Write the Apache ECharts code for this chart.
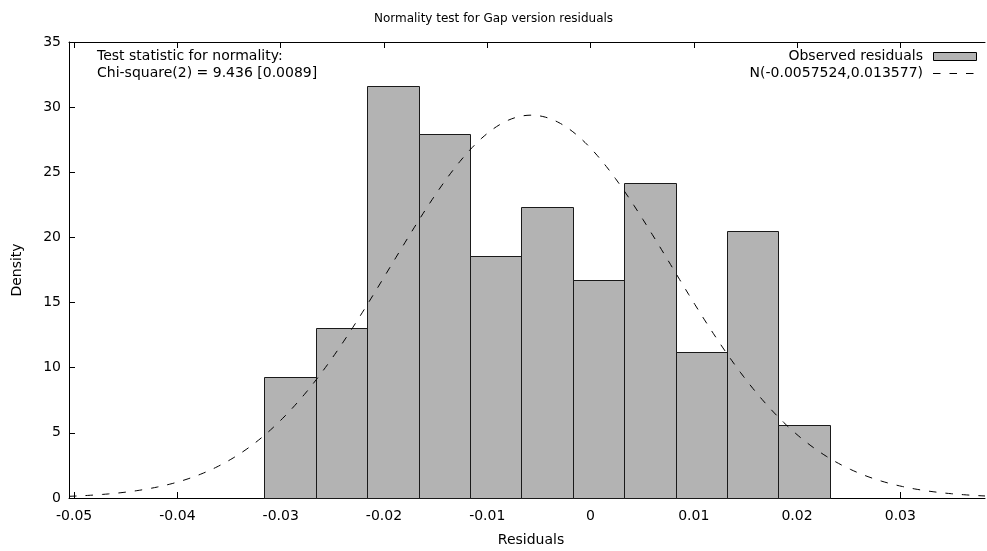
<!DOCTYPE html>
<html>
<head>
<meta charset="utf-8">
<title>Normality test for Gap version residuals</title>
<script src="https://cdn.jsdelivr.net/npm/echarts@6/dist/echarts.min.js"></script>
<style>
  html, body { margin: 0; padding: 0; background: #fff; }
  #chart { width: 987px; height: 551px; }
</style>
</head>
<body>
<div id="chart"></div>
<script>
// Histogram bin edges (residuals) and the density of each bin
const binEdges = [-0.03157, -0.02660, -0.02162, -0.01665, -0.01167, -0.00670,
                  -0.00172, 0.00325, 0.00823, 0.01320, 0.01818, 0.02315];
const densities = [9.30, 13.03, 31.64, 27.91, 18.61, 22.33, 16.75, 24.19, 11.17, 20.47, 5.58];

// Fitted normal distribution N(mean, sd)
const normMean = -0.0057524;
const normSd = 0.013577;

// Axis ranges and tick labels
const xRange = [-0.0505, 0.0382];
const xTicks = [-0.05, -0.04, -0.03, -0.02, -0.01, 0, 0.01, 0.02, 0.03];
const yTicks = [0, 5, 10, 15, 20, 25, 30, 35];

const titleText = 'Normality test for Gap version residuals';
const statLines = ['Test statistic for normality:', 'Chi-square(2) = 9.436 [0.0089]'];
const legendNames = ['Observed residuals', 'N(-0.0057524,0.013577)'];

const FONT = 'DejaVu Sans';
const FS = 14;
const FS_TITLE = 12;
const font = size => size + 'px "' + FONT + '"';
const DASH = [7.5, 9];

// Histogram rows: [lo, hi, density]
const histData = densities.map((d, i) => [binEdges[i], binEdges[i + 1], d]);

// Normal density curve sampled across the x range
const curveData = [];
const nPts = 300;
for (let i = 0; i <= nPts; i++) {
  const x = xRange[0] + (xRange[1] - xRange[0]) * i / nPts;
  const z = (x - normMean) / normSd;
  curveData.push([x, Math.exp(-0.5 * z * z) / (normSd * Math.sqrt(2 * Math.PI))]);
}

const fmtX = v => {
  if (Math.abs(v) < 1e-12) return '0';
  return (Math.round(v * 100) / 100).toString();
};

const axisLineStyle = { color: '#000', width: 1 };
const tickStyle = { color: '#000', width: 1 };

const chart = echarts.init(document.getElementById('chart'), null, { renderer: 'canvas' });

chart.setOption({
  animation: false,
  backgroundColor: '#fff',
  textStyle: { fontFamily: FONT },
  grid: { left: 69, right: 2, top: 42, bottom: 53, show: false },
  xAxis: [{
    type: 'value',
    min: xRange[0],
    max: xRange[1],
    position: 'bottom',
    splitLine: { show: false },
    axisLine: { show: true, onZero: false, lineStyle: axisLineStyle },
    axisTick: { show: true, inside: true, length: 6, lineStyle: tickStyle, customValues: xTicks },
    axisLabel: {
      show: true, margin: 11, color: '#000', fontFamily: FONT, fontSize: FS,
      customValues: xTicks, formatter: fmtX, showMinLabel: true, showMaxLabel: true
    }
  }, {
    type: 'value',
    min: xRange[0],
    max: xRange[1],
    position: 'top',
    splitLine: { show: false },
    axisLine: { show: true, onZero: false, lineStyle: axisLineStyle },
    axisTick: { show: true, inside: true, length: 6, lineStyle: tickStyle, customValues: xTicks },
    axisLabel: { show: false }
  }],
  yAxis: [{
    type: 'value',
    min: 0,
    max: 35,
    interval: 5,
    position: 'left',
    splitLine: { show: false },
    axisLine: { show: true, onZero: false, lineStyle: axisLineStyle },
    axisTick: { show: true, inside: true, length: 6, lineStyle: tickStyle },
    axisLabel: { show: true, margin: 8, color: '#000', fontFamily: FONT, fontSize: FS }
  }],
  series: [{
    name: legendNames[0],
    type: 'custom',
    xAxisIndex: 0,
    yAxisIndex: 0,
    data: histData,
    encode: { x: [0, 1], y: 2 },
    renderItem: function (params, api) {
      const p0 = api.coord([api.value(0), 0]);
      const p1 = api.coord([api.value(1), api.value(2)]);
      const x0 = Math.round(p0[0]) + 0.5;
      const x1 = Math.round(p1[0]) + 0.5;
      const yTop = Math.round(p1[1]) + 0.5;
      const yBot = Math.round(p0[1]) + 0.5;
      return {
        type: 'rect',
        shape: { x: x0, y: yTop, width: x1 - x0, height: yBot - yTop },
        style: { fill: '#b3b3b3', stroke: '#1a1a1a', lineWidth: 1 }
      };
    },
    z: 2
  }, {
    name: legendNames[1],
    type: 'line',
    xAxisIndex: 0,
    yAxisIndex: 0,
    data: curveData,
    showSymbol: false,
    symbol: 'none',
    smooth: false,
    lineStyle: { color: '#000', width: 1, type: DASH },
    z: 3
  }],
  graphic: [
    // chart title
    { type: 'text', z: 10, x: 493.5, y: 19,
      style: { text: titleText, fill: '#000', font: font(FS_TITLE), align: 'center', verticalAlign: 'middle' } },
    // statistic text, upper left
    { type: 'text', z: 10, x: 97, y: 56,
      style: { text: statLines[0], fill: '#000', font: font(FS), verticalAlign: 'middle' } },
    { type: 'text', z: 10, x: 97, y: 73,
      style: { text: statLines[1], fill: '#000', font: font(FS), verticalAlign: 'middle' } },
    // key entries, upper right
    { type: 'text', z: 10, x: 923, y: 56,
      style: { text: legendNames[0], fill: '#000', font: font(FS), align: 'right', verticalAlign: 'middle' } },
    { type: 'rect', z: 10, shape: { x: 933.5, y: 52.5, width: 43, height: 8 },
      style: { fill: '#b3b3b3', stroke: '#000', lineWidth: 1 } },
    { type: 'text', z: 10, x: 923, y: 73,
      style: { text: legendNames[1], fill: '#000', font: font(FS), align: 'right', verticalAlign: 'middle' } },
    { type: 'line', z: 10, shape: { x1: 933, y1: 73.5, x2: 977, y2: 73.5 },
      style: { stroke: '#000', lineWidth: 1, lineDash: DASH } },
    // axis titles
    { type: 'text', z: 10, x: 531, y: 540,
      style: { text: 'Residuals', fill: '#000', font: font(FS), align: 'center', verticalAlign: 'middle' } },
    { type: 'text', z: 10, x: 17, y: 270, rotation: Math.PI / 2,
      style: { text: 'Density', fill: '#000', font: font(FS), align: 'center', verticalAlign: 'middle' } }
  ]
});
</script>
</body>
</html>
